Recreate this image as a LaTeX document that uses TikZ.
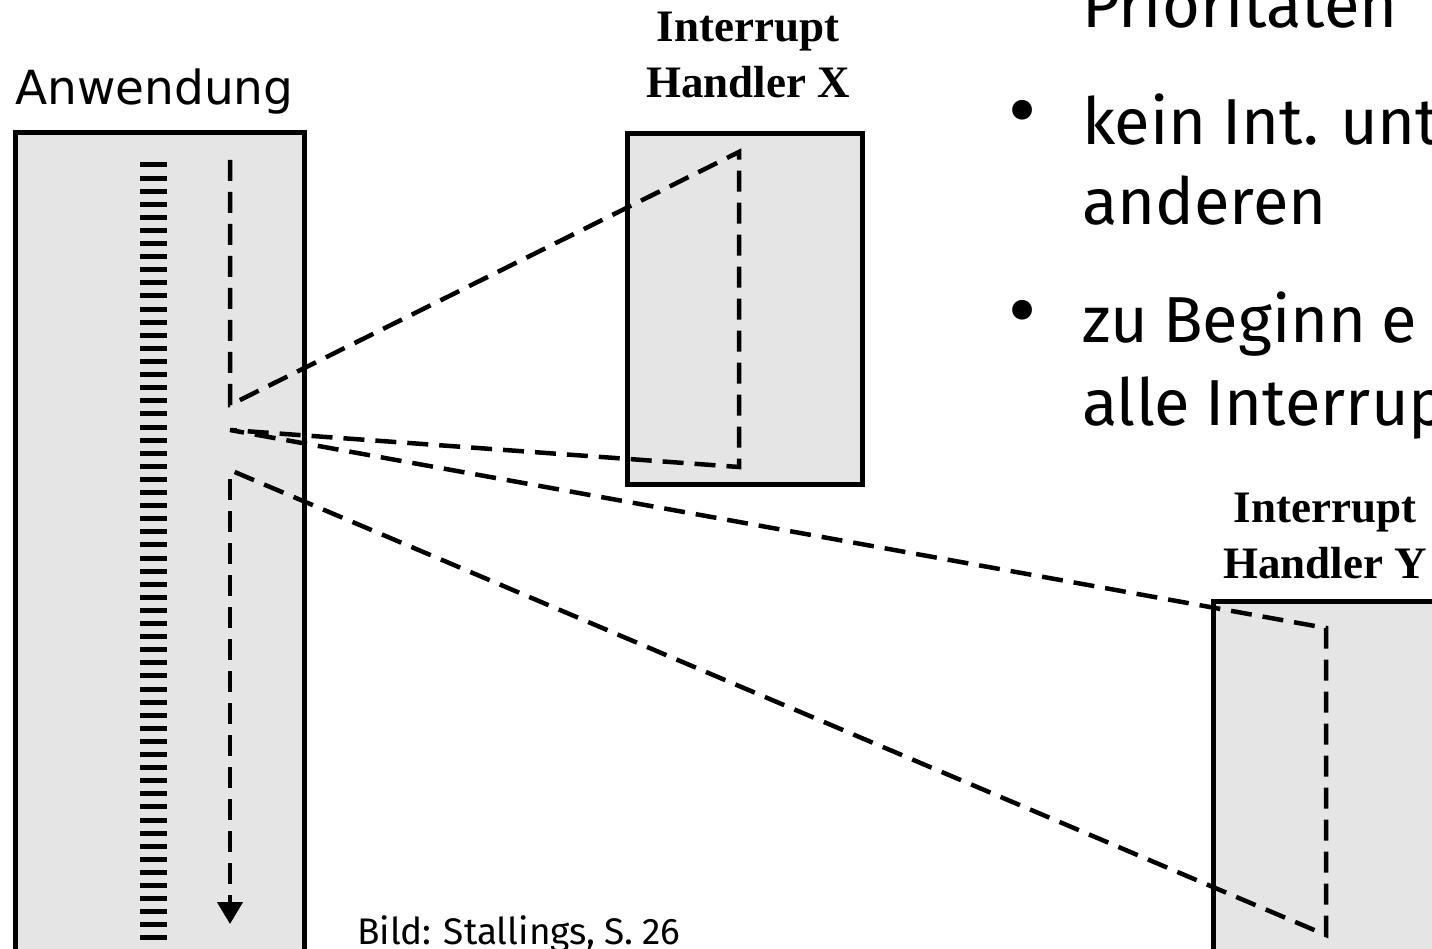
\documentclass[tikz,border=0pt]{standalone}
\usepackage{fontspec}
\usetikzlibrary{arrows.meta}
\newfontfamily\appfont{DejaVu Sans}
\newfontfamily\slidefont[WordSpace=0.9]{Fira Sans}
\newfontfamily\figfont{Liberation Serif}
\definecolor{boxgray}{HTML}{E5E5E5}

\tikzset{
  prog/.style={draw, line width=5pt, fill=boxgray, anchor=north west, inner sep=0pt},
  flow/.style={line width=4.5pt, dash pattern=on 21pt off 11pt},
  hlabel/.style={align=center, inner sep=0pt, font=\figfont\bfseries\fontsize{45}{56}\selectfont},
  slidetxt/.style={anchor=base west, inner sep=0pt, font=\slidefont\fontsize{65}{80}\selectfont},
  dot/.style={inner sep=0pt, font=\appfont\fontsize{68}{80}\selectfont},
}

\begin{document}
\begin{tikzpicture}[x=1pt,y=-1pt]
        \useasboundingbox (0,0) rectangle (1432,949);
        \clip (0,0) rectangle (1432,949);
        % programs
        \node[prog, minimum width=289pt, minimum height=840pt] (app) at (13,130) {};
        \node[prog, minimum width=235pt, minimum height=351pt] (hx) at (625,131) {};
        \node[prog, minimum width=240pt, minimum height=400pt] (hy) at (1211,599) {};
        \node[anchor=base west, inner sep=0pt, font=\appfont\fontsize{47}{50}\selectfont] (applbl) at (15,105) {Anwendung};
        \node[hlabel, anchor=base] (hxlbl) at (748,98) {Interrupt\\Handler X};
        \node[hlabel, anchor=base] (hylbl) at (1325,578) {Interrupt\\Handler Y};
        % instructions
        \foreach \k in {0,...,59}
            \draw[line width=5pt] (140,165+13.1*\k) -- (167,165+13.1*\k);
        % control flow
        \coordinate (t0) at (230,160);
        \coordinate (s1) at (230,405);
        \coordinate (r1) at (230,430);
        \coordinate (s2) at (230,470);
        \coordinate (t1) at (230,479);
        \coordinate (t2) at (230,924);
        \coordinate (xin) at (739,152);
        \coordinate (xout) at (739,467);
        \coordinate (yin) at (1326,628);
        \coordinate (yout) at (1326,935);
        \draw[flow] (t0) -- (s1) -- (xin) -- (xout) -- (r1) -- (yin) -- (yout) -- (s2);
        \draw[flow, -{Triangle[width=25pt,length=22pt]}] (t1) -- (t2);
        % slide text
        \node[slidetxt] (prio) at (1082,28) {Prioritäten};
        \node[dot] (dot1) at (1023,118) {•};
        \node[slidetxt] (b1a) at (1082,145) {kein Int. unte};
        \node[slidetxt] (b1b) at (1082,225) {anderen};
        \node[dot] (dot2) at (1023,318) {•};
        \node[slidetxt] (b2a) at (1082,343) {zu Beginn e};
        \node[slidetxt] (b2b) at (1082,425) {alle Interrupt};
        \node[anchor=base west, inner sep=0pt, font=\slidefont\fontsize{37}{40}\selectfont] (src) at (357,944) {Bild: Stallings, S. 26};
    \end{tikzpicture}
\end{document}
